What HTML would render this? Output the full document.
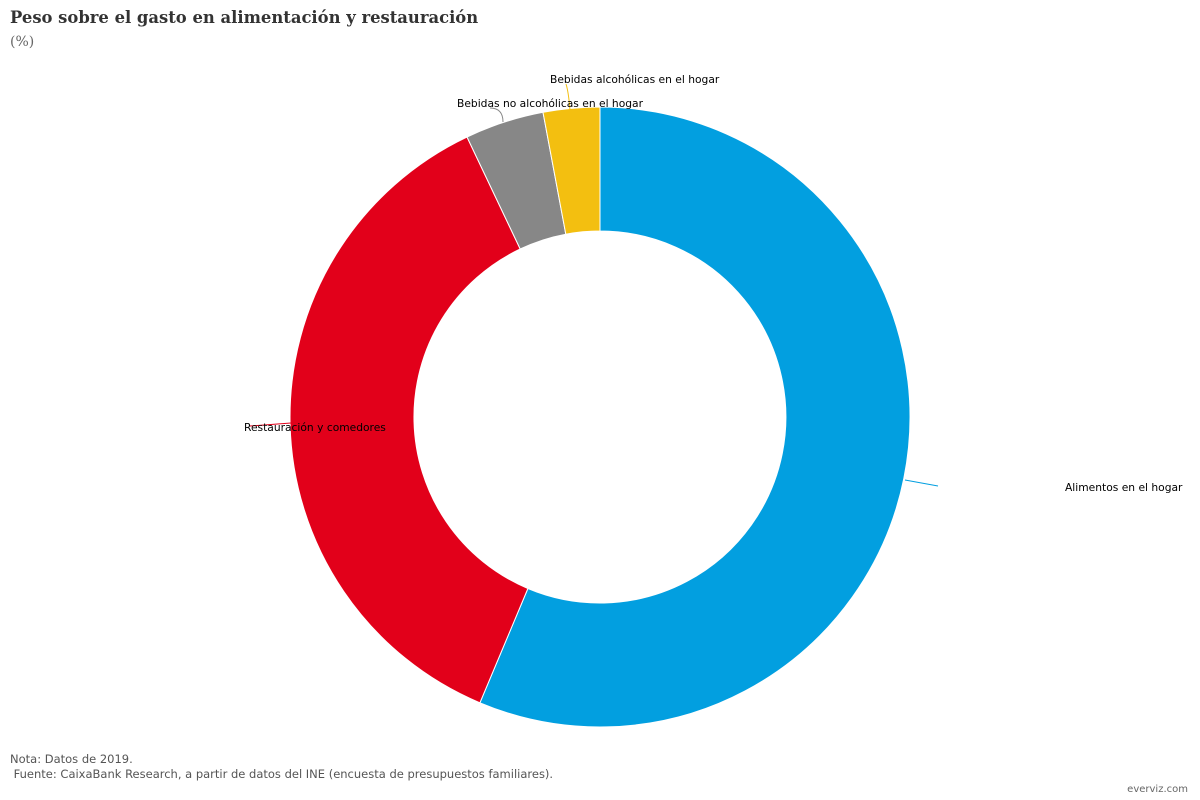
<!DOCTYPE html>
<html><head><meta charset="utf-8"><style>
body{margin:0;width:1200px;height:800px;background:#fff;overflow:hidden;position:relative;font-family:"DejaVu Sans",sans-serif}
.t{position:absolute;left:10px;top:8px;font-family:"DejaVu Serif",serif;font-weight:bold;font-size:16.4px;color:#333;white-space:nowrap}
.s{position:absolute;left:10px;top:34px;font-family:"DejaVu Serif",serif;font-size:14px;color:#666}
.f{position:absolute;left:10px;top:752px;font-size:11.5px;color:#555;line-height:15px}
.e{position:absolute;right:12px;top:784px;font-size:10px;color:#666}
</style></head><body>
<div class="t">Peso sobre el gasto en alimentación y restauración</div>
<div class="s">(%)</div>
<svg width="1200" height="800" style="position:absolute;left:0;top:0">
<g stroke="#fff" stroke-width="1">
<path d="M600,107 A310,310 0 1 1 479.9,702.8 L527.9,588.5 A186,186 0 1 0 600,231 Z" fill="#029fe0"/>
<path d="M479.9,702.8 A310,310 0 0 1 467,137 L520.2,249 A186,186 0 0 0 527.9,588.5 Z" fill="#e2001a"/>
<path d="M467,137 A310,310 0 0 1 543,112.3 L565.8,234.2 A186,186 0 0 0 520.2,249 Z" fill="#878787"/>
<path d="M543,112.3 A310,310 0 0 1 600,107 L600,231 A186,186 0 0 0 565.8,234.2 Z" fill="#f3bf10"/>
</g>
<g fill="none" stroke-width="1">
<path d="M905,480 L938,486" stroke="#029fe0"/>
<path d="M291,423 L250,426" stroke="#e2001a"/>
<path d="M503,122 C503,112 498,108 490,108" stroke="#878787"/>
<path d="M570,110 C569,98 568,90 566,84" stroke="#f3bf10"/>
</g>
<g font-size="10.7" fill="#000" font-family="DejaVu Sans,sans-serif">
<text x="1065" y="491">Alimentos en el hogar</text>
<text x="244" y="431">Restauración y comedores</text>
<text x="457" y="107">Bebidas no alcohólicas en el hogar</text>
<text x="550" y="83">Bebidas alcohólicas en el hogar</text>
</g>
</svg>
<div class="f">Nota: Datos de 2019.<br>&nbsp;Fuente: CaixaBank Research, a partir de datos del INE (encuesta de presupuestos familiares).</div>
<div class="e">everviz.com</div>
</body></html>
